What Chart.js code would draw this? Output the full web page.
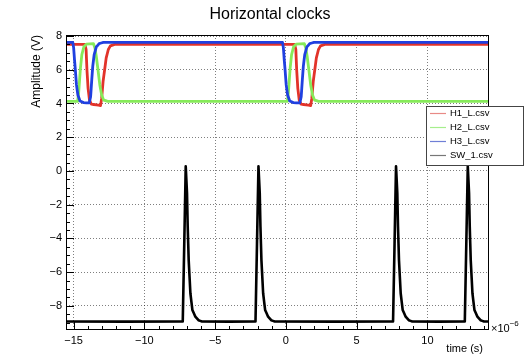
<!DOCTYPE html>
<html>
<head>
<meta charset="utf-8">
<title>Horizontal clocks</title>
<script src="https://cdn.jsdelivr.net/npm/chart.js@4.4.1/dist/chart.umd.min.js"></script>
<style>
  html, body { margin: 0; padding: 0; background: #fff; }
  #wrap { width: 530px; height: 362px; position: relative; }
</style>
</head>
<body>
<div id="wrap"><canvas id="chart"></canvas></div>
<script>
// Trục và nhãn
const xTicks = [-15, -10, -5, 0, 5, 10];
const yTicks = [-8, -6, -4, -2, 0, 2, 4, 6, 8];
const xRange = [-15.54, 14.35];
const yRange = [-9.43, 8.06];

const seriesNames = ['H1_L.csv', 'H2_L.csv', 'H3_L.csv', 'SW_1.csv'];
const seriesColors = ['#e2332a', '#86ea5a', '#2040e0', '#000000'];
const legendColors = ['#e88a86', '#a6ee8c', '#6f7fd6', '#777777'];

// H1_L (đỏ) - thời gian (µs) và biên độ (V)
const h1Time = [-15.54, -14.20, -14.12, -14.06, -13.98, -13.88, -13.75, -13.40, -13.10, -13.02, -12.92, -12.81, -12.70, -12.55, -12.40, -12.10,
                0.62, 0.70, 0.76, 0.84, 0.94, 1.07, 1.42, 1.75, 1.83, 1.93, 2.04, 2.15, 2.30, 2.45, 2.75, 14.35];
const h1Volt = [7.50, 7.50, 7.20, 6.00, 4.90, 4.20, 3.96, 3.92, 3.88, 4.30, 5.30, 6.00, 6.70, 7.20, 7.42, 7.50,
                7.50, 7.20, 6.00, 4.90, 4.20, 3.96, 3.92, 3.88, 4.30, 5.30, 6.00, 6.70, 7.20, 7.42, 7.50, 7.50];

// H2_L (xanh lá)
const h2Time = [-15.54, -14.72, -14.65, -14.58, -14.52, -14.42, -14.28, -14.10, -13.60, -13.50, -13.40, -13.28, -13.15, -13.02, -12.88, -12.60,
                0.10, 0.17, 0.24, 0.30, 0.40, 0.54, 0.72, 1.30, 1.40, 1.50, 1.62, 1.75, 1.88, 2.02, 2.30, 14.35];
const h2Volt = [4.13, 4.13, 4.60, 5.40, 6.10, 6.90, 7.35, 7.52, 7.55, 7.30, 6.80, 6.00, 5.10, 4.50, 4.20, 4.13,
                4.13, 4.60, 5.40, 6.10, 6.90, 7.35, 7.52, 7.55, 7.30, 6.80, 6.00, 5.10, 4.50, 4.20, 4.13, 4.13];

// H3_L (xanh dương)
const h3Time = [-15.54, -15.06, -15.00, -14.94, -14.88, -14.80, -14.70, -14.55, -14.30, -13.90, -13.80, -13.72, -13.65, -13.55, -13.40, -13.20, -12.90,
                -0.24, -0.18, -0.12, -0.06, 0.02, 0.12, 0.27, 0.52, 0.98, 1.08, 1.16, 1.23, 1.33, 1.48, 1.68, 1.98, 14.35];
const h3Volt = [7.62, 7.62, 7.30, 6.60, 6.00, 5.10, 4.50, 4.15, 4.05, 4.03, 4.40, 5.40, 6.20, 6.90, 7.35, 7.55, 7.62,
                7.62, 7.30, 6.60, 6.00, 5.10, 4.50, 4.15, 4.05, 4.03, 4.40, 5.40, 6.20, 6.90, 7.35, 7.55, 7.62, 7.62];

// SW_1 (đen) - các xung nhọn
const swTime = [-15.54,
                -7.29, -7.08, -6.99, -6.94, -6.87, -6.75, -6.61, -6.40, -6.18, -5.93,
                -2.15, -1.94, -1.85, -1.80, -1.73, -1.61, -1.47, -1.26, -1.04, -0.79,
                7.57, 7.78, 7.87, 7.92, 7.99, 8.11, 8.25, 8.46, 8.68, 8.93,
                12.64, 12.85, 12.94, 12.99, 13.06, 13.18, 13.32, 13.53, 13.75, 14.00,
                14.35];
const swVolt = [-8.93,
                -8.93, 0.28, -1.30, -3.30, -5.30, -7.25, -8.24, -8.64, -8.85, -8.93,
                -8.93, 0.28, -1.30, -3.30, -5.30, -7.25, -8.24, -8.64, -8.85, -8.93,
                -8.93, 0.28, -1.30, -3.30, -5.30, -7.25, -8.24, -8.64, -8.85, -8.93,
                -8.93, 0.28, -1.30, -3.30, -5.30, -7.25, -8.24, -8.64, -8.85, -8.93,
                -8.93];

const FONT = '"Liberation Sans", Arial, Helvetica, sans-serif';

function toPoints(times, volts) {
    return times.map((t, i) => ({ x: t, y: volts[i] }));
}

// Khung, vạch chia hướng vào trong, tiêu đề và chú thích kiểu ROOT
const rootFrame = {
    id: 'rootFrame',
    afterDraw(chart) {
        const { ctx, chartArea: a, scales: { x, y } } = chart;
        ctx.save();
        ctx.strokeStyle = '#000';
        ctx.lineWidth = 1;
        ctx.strokeRect(a.left + 0.5, a.top + 0.5, a.right - a.left - 1, a.bottom - a.top - 1);

        ctx.beginPath();
        for (let v = Math.ceil(x.min); v <= x.max; v += 1) {
            const px = Math.round(x.getPixelForValue(v)) + 0.5;
            const len = xTicks.includes(v) ? 8 : 4;
            ctx.moveTo(px, a.bottom);
            ctx.lineTo(px, a.bottom - len);
        }
        for (let v = Math.ceil(y.min * 2) / 2; v <= y.max; v += 0.5) {
            const py = Math.round(y.getPixelForValue(v)) + 0.5;
            const len = yTicks.includes(v) ? 8 : 4;
            ctx.moveTo(a.left, py);
            ctx.lineTo(a.left + len, py);
        }
        ctx.stroke();

        ctx.fillStyle = '#000';
        // tiêu đề
        ctx.font = '16px ' + FONT;
        ctx.textAlign = 'center';
        ctx.textBaseline = 'alphabetic';
        ctx.fillText('Horizontal clocks', 270, 18.5);

        // tiêu đề trục x
        ctx.font = '11px ' + FONT;
        ctx.textAlign = 'right';
        ctx.fillText('time (s)', 483, 352);

        // hệ số mũ
        ctx.textAlign = 'left';
        ctx.font = '11px ' + FONT;
        ctx.fillText('\u00d710', 491, 332);
        const w = ctx.measureText('\u00d710').width;
        ctx.font = '8px ' + FONT;
        ctx.fillText('\u22126', 491 + w, 326);

        // tiêu đề trục y
        ctx.save();
        ctx.translate(39.5, 35);
        ctx.rotate(-Math.PI / 2);
        ctx.font = '12px ' + FONT;
        ctx.textAlign = 'right';
        ctx.fillText('Amplitude (V)', 0, 0);
        ctx.restore();

        // chú thích
        ctx.fillStyle = '#fff';
        ctx.fillRect(426.5, 106.5, 97, 59);
        ctx.strokeStyle = '#444';
        ctx.strokeRect(426.5, 106.5, 97, 59);
        ctx.font = '9.5px ' + FONT;
        ctx.textAlign = 'left';
        ctx.textBaseline = 'middle';
        seriesNames.forEach((name, i) => {
            const ly = 113.5 + i * 14;
            ctx.strokeStyle = legendColors[i];
            ctx.lineWidth = 1.2;
            ctx.beginPath();
            ctx.moveTo(430, ly);
            ctx.lineTo(446, ly);
            ctx.stroke();
            ctx.fillStyle = '#000';
            ctx.fillText(name, 450, ly);
        });
        ctx.restore();
    }
};

const gridStyle = { color: 'rgba(0,0,0,0.5)', lineWidth: 1, drawTicks: false };
const dotted = { display: false, dash: [1, 2] };

const ctx = document.getElementById('chart').getContext('2d');
const chart = new Chart(ctx, {
    type: 'line',
    data: {
        datasets: [
            { label: seriesNames[0], data: toPoints(h1Time, h1Volt), borderColor: seriesColors[0], borderWidth: 2.8, order: 3 },
            { label: seriesNames[1], data: toPoints(h2Time, h2Volt), borderColor: seriesColors[1], borderWidth: 2.8, order: 2 },
            { label: seriesNames[2], data: toPoints(h3Time, h3Volt), borderColor: seriesColors[2], borderWidth: 2.8, order: 1 },
            { label: seriesNames[3], data: toPoints(swTime, swVolt), borderColor: seriesColors[3], borderWidth: 2.6, order: 0 }
        ]
    },
    options: {
        responsive: true,
        maintainAspectRatio: false,
        animation: false,
        events: [],
        layout: { padding: { left: 0, right: 41, top: 35, bottom: 0 } },
        elements: {
            point: { radius: 0 },
            // tension rất nhỏ để tránh đường vẽ nhanh gộp điểm
            line: { tension: 0.001, fill: false, borderJoinStyle: 'round' }
        },
        plugins: {
            legend: { display: false },
            title: { display: false },
            tooltip: { enabled: false }
        },
        scales: {
            x: {
                type: 'linear',
                min: xRange[0],
                max: xRange[1],
                afterFit: s => { s.height = 32; },
                afterBuildTicks: s => { s.ticks = xTicks.map(v => ({ value: v })); },
                border: dotted,
                grid: gridStyle,
                ticks: {
                    padding: 4,
                    color: '#000',
                    font: { size: 11, family: FONT },
                    maxRotation: 0,
                    callback: v => String(v).replace('-', '\u2212')
                }
            },
            y: {
                type: 'linear',
                min: yRange[0],
                max: yRange[1],
                afterFit: s => { s.width = 66; },
                afterBuildTicks: s => { s.ticks = yTicks.map(v => ({ value: v })); },
                border: dotted,
                grid: gridStyle,
                ticks: {
                    padding: 4,
                    color: '#000',
                    font: { size: 11, family: FONT },
                    callback: v => String(v).replace('-', '\u2212')
                }
            }
        }
    },
    plugins: [rootFrame]
});
</script>
</body>
</html>
